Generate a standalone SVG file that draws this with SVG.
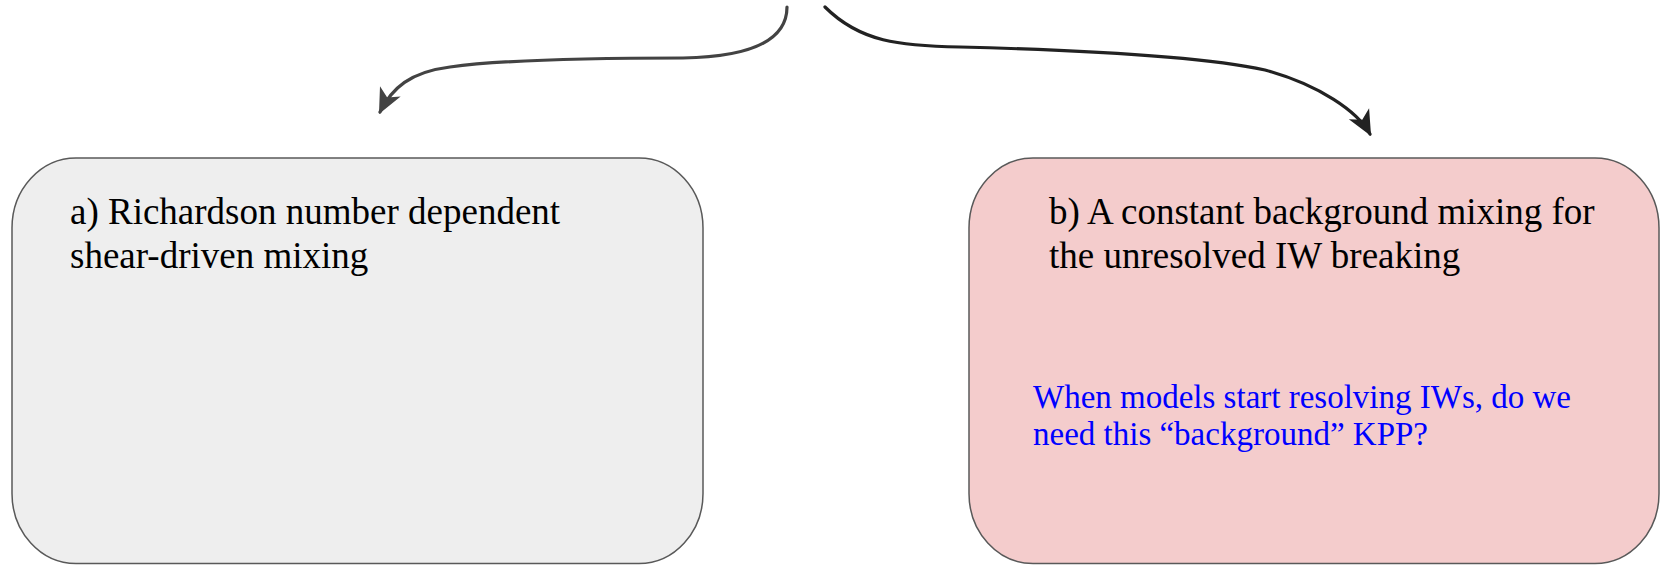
<svg xmlns="http://www.w3.org/2000/svg" width="1661" height="565" viewBox="0 0 1661 565">
<style>
.box{stroke:#595959;stroke-width:1.5}
.t{font-family:"Liberation Serif","Times New Roman",serif;font-size:37px;fill:#000}
.q{font-family:"Liberation Serif","Times New Roman",serif;font-size:33px;fill:#0000ff}
.c{fill:none;stroke-width:3.2;stroke-linecap:round}
</style>
<defs>
<marker id="ahL" markerUnits="userSpaceOnUse" markerWidth="30" markerHeight="30" viewBox="-22 -12 26 24" refX="0" refY="0" orient="auto">
<path d="M2,0 L-20,-10 L-14,0 L-20,10 Z" fill="#434343"/>
</marker>
<marker id="ahR" markerUnits="userSpaceOnUse" markerWidth="30" markerHeight="30" viewBox="-22 -12 26 24" refX="0" refY="0" orient="auto">
<path d="M2,0 L-20,-10 L-14,0 L-20,10 Z" fill="#222222"/>
</marker>
</defs>
<g id="connectors">
<path class="c" stroke="#434343" d="M787,7 C787,45 740,57 683,58 C600,58 500,60 450,67 C410,72 392,88 380,112" marker-end="url(#ahL)"/>
<path class="c" stroke="#222222" d="M825,7 C860,42 900,46 960,47 C1080,50 1200,56 1265,70 C1320,85 1358,112 1370,134" marker-end="url(#ahR)"/>
</g>
<g id="nodeA">
<rect class="box" x="12" y="158" width="691" height="405.5" rx="64" ry="70" fill="#eeeeee"/>
<text class="t" x="70" y="224">a) Richardson number dependent</text>
<text class="t" x="70" y="267.5">shear-driven mixing</text>
</g>
<g id="nodeB">
<rect class="box" x="969" y="158" width="690" height="405.5" rx="64" ry="70" fill="#f4cccc"/>
<text class="t" x="1049" y="224">b) A constant background mixing for</text>
<text class="t" x="1049" y="267.5">the unresolved IW breaking</text>
<text class="q" x="1033" y="408">When models start resolving IWs, do we</text>
<text class="q" x="1033" y="445">need this “background” KPP?</text>
</g>
</svg>
